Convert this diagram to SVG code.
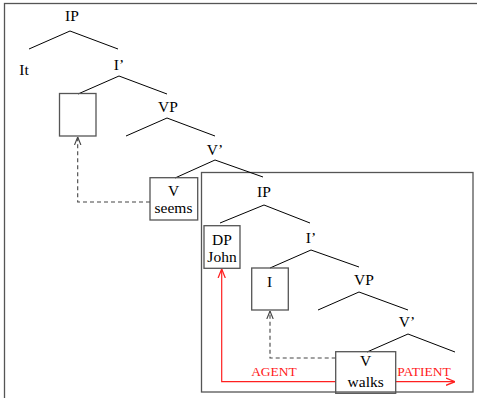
<svg xmlns="http://www.w3.org/2000/svg" width="477" height="398" viewBox="0 0 477 398">
<defs>
<style>
text{font-family:"Liberation Serif","Times New Roman",serif;font-size:15.5px;fill:#000;text-anchor:middle}
.red{fill:#ff2020;font-size:13.5px}
.tree line{stroke:#000;stroke-width:1}
.box{fill:none;stroke:#555;stroke-width:1.3}
.dash{fill:none;stroke:#444;stroke-width:1.1;stroke-dasharray:4 3}
.redl{fill:none;stroke:#ff2020;stroke-width:1.2}
</style>
<marker id="ak" viewBox="0 0 10 10" refX="10" refY="5" markerWidth="8" markerHeight="8" markerUnits="userSpaceOnUse" orient="auto"><path d="M0,1 L10,5 L0,9" fill="none" stroke="#444" stroke-width="1.4"/></marker>
<marker id="ar" viewBox="0 0 10 10" refX="10" refY="5" markerWidth="9" markerHeight="9" markerUnits="userSpaceOnUse" orient="auto"><path d="M0,1 L10,5 L0,9" fill="none" stroke="#ff2020" stroke-width="1.4"/></marker>
</defs>
<rect id="frame" x="4.5" y="3.5" width="490" height="410" fill="none" stroke="#555" stroke-width="1.3"/>
<rect id="inner" x="201.5" y="172.5" width="271.5" height="219.5" fill="none" stroke="#555" stroke-width="1.3"/>
<g id="edges" class="tree">
<line x1="70" y1="31" x2="29" y2="49"/><line x1="70" y1="31" x2="118" y2="49"/>
<line x1="119" y1="76" x2="78" y2="94"/><line x1="119" y1="76" x2="167" y2="94"/>
<line x1="167" y1="118" x2="126" y2="136"/><line x1="167" y1="118" x2="215" y2="136"/>
<line x1="215" y1="160" x2="175" y2="178"/><line x1="215" y1="160" x2="263" y2="177"/>
<line x1="264" y1="205" x2="220" y2="223"/><line x1="264" y1="205" x2="310" y2="223"/>
<line x1="311" y1="250" x2="270" y2="268"/><line x1="311" y1="250" x2="359" y2="267"/>
<line x1="359" y1="292" x2="318" y2="310"/><line x1="359" y1="292" x2="408" y2="310"/>
<line x1="408" y1="334" x2="367" y2="352"/><line x1="408" y1="334" x2="455" y2="352"/>
</g>
<g id="connectors">
<path class="dash" d="M150,202 H77.7 V137" marker-end="url(#ak)"/>
<path class="dash" d="M335.7,358 H270 V311" marker-end="url(#ak)"/>
<path class="redl" d="M335.7,381.7 H221.7 V269" marker-end="url(#ar)"/>
<path class="redl" d="M395.7,381.7 H455" marker-end="url(#ar)"/>
</g>
<g id="n-ip"><text x="72" y="21">IP</text></g>
<g id="n-it"><text x="24" y="75">It</text></g>
<g id="n-ibar"><text x="119" y="70">I’</text></g>
<g id="n-i-empty"><rect class="box" x="59.5" y="93.5" width="36.5" height="42.5"/></g>
<g id="n-vp"><text x="168" y="112">VP</text></g>
<g id="n-vbar"><text x="215" y="155">V’</text></g>
<g id="n-seems"><rect class="box" x="150" y="177.7" width="47.7" height="42.3"/><text x="173.5" y="196">V</text><text x="173.5" y="213">seems</text></g>
<g id="n-ip2"><text x="264" y="197">IP</text></g>
<g id="n-dp"><rect class="box" x="204" y="225.7" width="36" height="42.6"/><text x="222" y="245">DP</text><text x="222" y="262">John</text></g>
<g id="n-ibar2"><text x="311" y="243">I’</text></g>
<g id="n-i"><rect class="box" x="251.7" y="268" width="36.6" height="42"/><text x="269.5" y="287">I</text></g>
<g id="n-vp2"><text x="364" y="285">VP</text></g>
<g id="n-vbar2"><text x="407" y="327">V’</text></g>
<g id="n-walks"><rect class="box" x="335.7" y="351.7" width="60" height="41.6"/><text x="365.7" y="366">V</text><text x="365.7" y="387">walks</text></g>
<g id="l-agent"><text class="red" x="274" y="376">AGENT</text></g>
<g id="l-patient"><text class="red" x="424" y="376">PATIENT</text></g>
</svg>
